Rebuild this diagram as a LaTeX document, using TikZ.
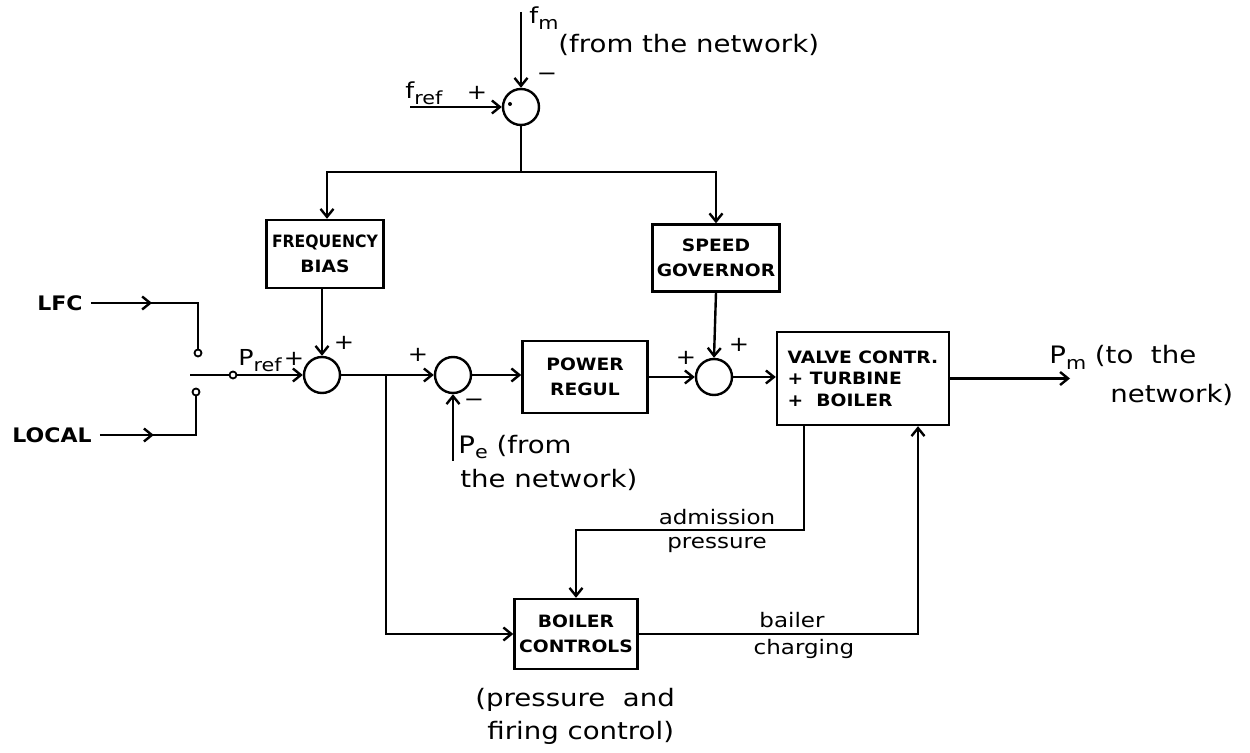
\documentclass[tikz,border=0pt]{standalone}
\usepackage{fontspec}
\setmainfont{DejaVu Sans}
\newfontfamily\labfont[FakeStretch=1.15]{DejaVu Sans}
\newfontfamily\capfont[FakeStretch=1.1]{DejaVu Sans}
\newfontfamily\capnarrow[FakeStretch=0.92]{DejaVu Sans}
\usetikzlibrary{arrows.meta,decorations.markings}
\newcommand\mysub[1]{\raisebox{-0.45ex}{\fontsize{9}{9}\selectfont #1}}

\tikzset{
  wire/.style={line width=1.2pt},
  sig/.style={wire, -{Straight Barb[length=4pt,width=6.5pt,line width=1.2pt]}},
  midarrow/.style={wire, postaction={decorate}, decoration={markings,
      mark=at position #1 with {\arrow{Straight Barb[length=4pt,width=6.5pt,line width=1.2pt]}}}},
  blk/.style={draw, line width=1.2pt, align=center, inner sep=2pt,
      font=\capfont\bfseries\fontsize{8.5}{12.5}\selectfont},
  sumj/.style={circle, draw, line width=1.2pt, minimum size=18pt, inner sep=0pt},
  contact/.style={circle, draw, line width=0.9pt, minimum size=3.5pt, inner sep=0pt, fill=white},
  capslab/.style={font=\capfont\bfseries\fontsize{10}{11}\selectfont, inner sep=4pt},
  lbl/.style={font=\labfont\fontsize{12}{14}\selectfont, inner sep=0pt},
  small/.style={font=\labfont\fontsize{10}{12}\selectfont, inner sep=0pt},
  sym/.style={font=\labfont\fontsize{11}{12}\selectfont, inner sep=0pt},
  sgn/.style={font=\labfont\fontsize{10.5}{12}\selectfont, inner sep=0pt},
}

\begin{document}
\begin{tikzpicture}[x=0.5pt,y=-0.5pt]
\useasboundingbox (0,0) rectangle (1250,753);

% summing junctions
\node[sumj] (s0) at (521,107) {};
\node[sumj] (s1) at (322,375) {};
\node[sumj] (s2) at (453,375) {};
\node[sumj] (s3) at (714,377) {};
\fill (510,104) circle (1pt);

% blocks
\node[blk, minimum width=58.5pt, minimum height=34pt] (fb) at (325,254)
  {{\capnarrow\bfseries FREQUENCY}\\BIAS};
\node[blk, minimum width=63.5pt, minimum height=33.5pt] (sg) at (716,258)
  {SPEED\\GOVERNOR};
\node[blk, minimum width=62.5pt, minimum height=36pt] (pr) at (585,377)
  {POWER\\REGUL};
\node[blk, minimum width=86pt, minimum height=46.5pt, align=left,
      font=\capfont\bfseries\fontsize{8.5}{10.8}\selectfont] (vc) at (863,378.5)
  {VALVE CONTR.\\+ TURBINE\\+ \ BOILER};
\node[blk, minimum width=61.5pt, minimum height=35pt] (bc) at (576,634)
  {BOILER\\CONTROLS};

% frequency error and its distribution
\coordinate (fmin) at (521,12);
\coordinate (frefin) at (410,107);
\coordinate (j0) at (521,172);
\draw[sig] (fmin) -- (s0.north);
\draw[sig] (frefin) -- (s0.west);
\draw[wire] (s0.south) -- (j0);
\draw[sig] (j0) -| ([xshift=1pt]fb.north);
\draw[sig] (j0) -| (sg.north);

\node[sym, anchor=base west] (fmlab) at (529,24) {f\mysub{m}};
\node[lbl, anchor=west] (fmtxt) at (558,45) {(from the network)};
\node[sgn] (s0minus) at (547,77) {−};
\node[sym, anchor=base west] (freflab) at (405,99) {f\mysub{ref}};
\node[sgn] (s0plus) at (477,93) {+};

% set-point selector
\node[capslab] (lfc) at (60,303) {LFC};
\node[capslab] (local) at (52,435) {LOCAL};
\node[contact] (ca) at (198,353) {};
\node[contact] (cb) at (196,392) {};
\node[contact] (cp) at (233,375) {};
\coordinate (blade) at (190,375);
\draw[midarrow=0.4] (lfc.east) -| (ca.north);
\draw[midarrow=0.4] (local.east) -| (cb.south);
\draw[wire] (blade) -- (cp);
\draw[sig] (cp) -- (s1.west);
\node[sym, anchor=base west] (preflab) at (238,366) {P\mysub{ref}};
\node[sgn] (s1plusl) at (294,359) {+};
\node[sgn] (s1plust) at (344,343) {+};
\draw[sig] (fb.south -| s1.north) -- (s1.north);

% power loop
\coordinate (j1) at (386,375);
\draw[wire] (s1.east) -- (j1);
\draw[sig] (j1) -- (s2.west);
\node[sgn] (s2plus) at (418,355) {+};
\coordinate (pein) at (453,461);
\draw[sig] (pein) -- (s2.south);
\node[sgn] (s2minus) at (474,403) {−};
\node[lbl, anchor=west] (pelab) at (458,447) {P\mysub{e} (from};
\node[lbl, anchor=west] (pelab2) at (460,480) {the network)};
\draw[sig] (s2.east) -- (s2.east -| pr.west);
\draw[sig] (pr.east |- s3.west) -- (s3.west);
\node[sgn] (s3plusl) at (686,358) {+};
\node[sgn] (s3plust) at (739,345) {+};
\draw[sig] (sg.south) -- (s3.north);
\draw[sig] (s3.east) -- (s3.east -| vc.west);

% mechanical power output
\coordinate (pmout) at (1070,378.5);
\draw[sig] (vc.east) -- (pmout);
\node[lbl, anchor=base west] (pmlab) at (1049,364) {P\mysub{m} (to \ the};
\node[lbl, anchor=west] (pmlab2) at (1110,395) {network)};

% boiler loop
\draw[sig] (j1) |- (bc.west);
\coordinate (adm) at (804,530);
\draw[sig] (adm |- vc.south) -- (adm) -| (bc.north);
\coordinate (chg) at (918,634);
\draw[sig] (bc.east) -- (chg) -- (chg |- vc.south);
\node[small] (admlab) at (717,517) {admission};
\node[small] (admlab2) at (717,545) {pressure};
\node[small] (chglab) at (792,620) {bailer};
\node[small] (chglab2) at (804,649) {charging};
\node[lbl, anchor=west] (bclab) at (475,700) {(pressure \ and};
\node[lbl, anchor=west] (bclab2) at (487,733) {firing control)};
\end{tikzpicture}
\end{document}
